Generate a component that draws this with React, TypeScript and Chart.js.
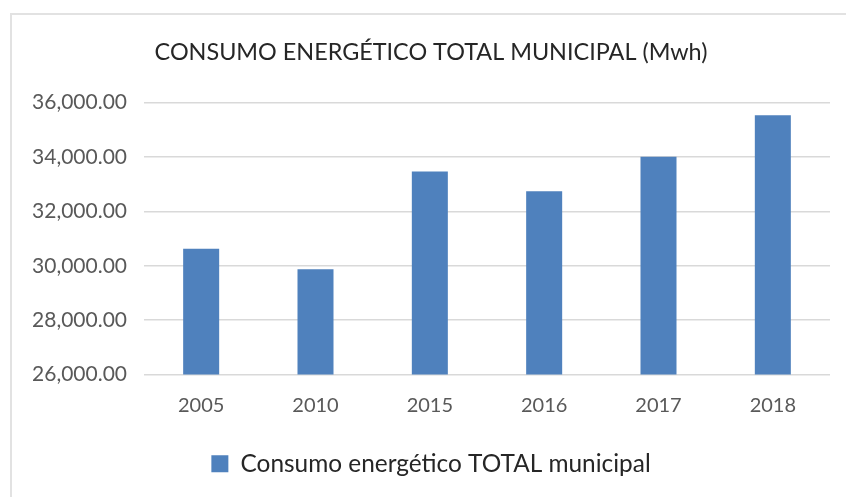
import React, { useEffect, useRef } from "react";
import { Chart, registerables } from "chart.js";

Chart.register(...registerables);

const categories = ["2005", "2010", "2015", "2016", "2017", "2018"];
const seriesName = "Consumo energético TOTAL municipal";
const seriesValues = [30630, 29870, 33470, 32740, 34010, 35530];
const chartTitle = "CONSUMO ENERGÉTICO TOTAL MUNICIPAL (Mwh)";
const yMin = 26000;
const yMax = 36000;
const yStep = 2000;

const FONT = "Lato, 'Open Sans', sans-serif";

export default function App() {
  const canvasRef = useRef<HTMLCanvasElement | null>(null);

  useEffect(() => {
    const canvas = canvasRef.current;
    if (!canvas) return;
    const chart = new Chart(canvas, {
      type: "bar",
      data: {
        labels: categories,
        datasets: [
          {
            label: seriesName,
            data: seriesValues,
            backgroundColor: "#4F81BD",
            borderWidth: 0,
            categoryPercentage: 0.315,
            barPercentage: 1,
          },
        ],
      },
      options: {
        responsive: false,
        animation: false,
        layout: { padding: { left: 32, right: 16, top: 0, bottom: 11 } },
        plugins: {
          tooltip: { enabled: false },
          title: {
            display: true,
            text: chartTitle,
            color: "#262626",
            font: { family: FONT, size: 23.4, weight: "normal", lineHeight: 1.2 },
            padding: { top: 38.5, bottom: 36 },
          },
          legend: {
            display: true,
            position: "bottom",
            labels: {
              color: "#262626",
              font: { family: FONT, size: 24.4 },
              boxWidth: 17,
              boxHeight: 17,
              padding: 10,
            },
          },
        },
        scales: {
          x: {
            grid: { display: false, drawTicks: false },
            border: { display: false },
            ticks: {
              color: "#595959",
              font: { family: FONT, size: 20 },
              padding: 19,
            },
            afterFit: (scale: any) => {
              scale.height = 67;
            },
          },
          y: {
            min: yMin,
            max: yMax,
            grid: { color: "#d9d9d9", lineWidth: 1.5, drawTicks: false },
            border: { display: false },
            ticks: {
              stepSize: yStep,
              color: "#595959",
              font: { family: FONT, size: 21 },
              padding: 17,
              callback: (v: any) =>
                Number(v).toLocaleString("en-US", {
                  minimumFractionDigits: 2,
                  maximumFractionDigits: 2,
                }),
            },
            afterFit: (scale: any) => {
              scale.width = 112;
            },
          },
        },
      },
    });
    return () => chart.destroy();
  }, []);

  return (
    <div
      style={{
        position: "fixed",
        left: 0,
        top: 0,
        width: 846,
        height: 497,
        overflow: "hidden",
        background: "#ffffff",
      }}
    >
      <div
        style={{
          position: "absolute",
          left: 10,
          top: 13,
          width: 900,
          height: 600,
          borderLeft: "2px solid #e2e2e2",
          borderTop: "2px solid #e2e2e2",
        }}
      />
      <canvas
        ref={canvasRef}
        width={846}
        height={497}
        style={{ position: "absolute", left: 0, top: 0 }}
      />
    </div>
  );
}
